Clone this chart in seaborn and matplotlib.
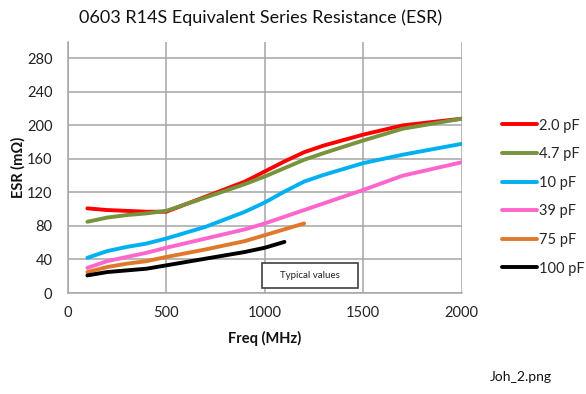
import matplotlib
matplotlib.use("Agg")
import numpy as np
import pandas as pd
import matplotlib.pyplot as plt
import seaborn as sns
from matplotlib.patches import Rectangle

# values (ESR in mOhm vs frequency in MHz)
caps = ["2.0 pF", "4.7 pF", "10 pF", "39 pF", "75 pF", "100 pF"]

freq_full = [100, 200, 300, 400, 500, 700, 900, 1000, 1100, 1200, 1300, 1500, 1700, 2000]
freq_75 = [100, 200, 300, 400, 500, 700, 900, 1000, 1100, 1200]
freq_100 = [100, 200, 300, 400, 500, 700, 900, 1000, 1100]

esr_2p0 = [101, 99, 98, 97, 97, 115, 133, 145, 157, 168, 176, 189, 200, 208]
esr_4p7 = [85, 90, 93, 95, 98, 114, 130, 139, 149, 159, 167, 182, 196, 208]
esr_10 = [42, 50, 55, 59, 65, 79, 97, 108, 121, 133, 141, 155, 165, 178]
esr_39 = [30, 38, 43, 48, 54, 65, 76, 83, 91, 99, 107, 123, 140, 156]
esr_75 = [25, 31, 35, 38, 43, 52, 62, 69, 76, 83]
esr_100 = [21, 25, 27, 29, 33, 41, 49, 54, 61]

colors = ["#FF0000", "#77933C", "#00B0F0", "#FF66CC", "#E0782C", "#000000"]

series = [
    (caps[0], freq_full, esr_2p0),
    (caps[1], freq_full, esr_4p7),
    (caps[2], freq_full, esr_10),
    (caps[3], freq_full, esr_39),
    (caps[4], freq_75, esr_75),
    (caps[5], freq_100, esr_100),
]
df = pd.concat(
    [pd.DataFrame({"freq": f, "esr": e, "cap": c}) for c, f, e in series],
    ignore_index=True,
)

sns.set_style("white")
plt.rcParams["font.family"] = ["Lato", "DejaVu Sans"]

fig = plt.figure(figsize=(5.86, 3.94), dpi=100)
ax = fig.add_axes([0.1155, 0.2563, 0.788 - 0.1155, 0.8934 - 0.2563])

grid_col = "#A6A6A6"
sns.lineplot(
    data=df, x="freq", y="esr", hue="cap", hue_order=caps,
    palette=dict(zip(caps, colors)), linewidth=2.8, ax=ax,
    solid_capstyle="round",
)

ax.set_xlim(0, 2000)
ax.set_ylim(0, 299.5)
ax.set_xticks(np.arange(0, 2001, 500))
ax.set_yticks(np.arange(0, 281, 40))
ax.grid(True, color=grid_col, linewidth=1.1)
ax.set_axisbelow(True)
for side in ["top", "right"]:
    ax.spines[side].set_visible(False)
for side in ["left", "bottom"]:
    ax.spines[side].set_color(grid_col)
    ax.spines[side].set_linewidth(1.1)
ax.tick_params(axis="both", direction="out", length=4, width=1.1,
               color=grid_col, labelsize=10.5, labelcolor="#222222")
ax.tick_params(axis="x", pad=5)
ax.tick_params(axis="y", pad=7)
ax.set_xlabel("")
ax.set_ylabel("")

# "Typical values" box
ax.add_patch(Rectangle((988, 5.6), 487, 30, facecolor="white",
                       edgecolor="#404040", linewidth=1.2, zorder=5))
ax.text(1231, 20.5, "Typical values", ha="center", va="center",
        fontsize=7, color="#222222", zorder=6)

handles, labels = ax.get_legend_handles_labels()
ax.legend(handles, labels, loc="upper left", bbox_to_anchor=(0.856, 0.699),
          bbox_transform=fig.transFigure, frameon=False, fontsize=10.5,
          handlelength=2.4, handletextpad=0.15, labelspacing=1.0,
          borderpad=0, borderaxespad=0)

fig.text(0.135, 0.954, "0603 R14S Equivalent Series Resistance (ESR)",
         ha="left", va="center", fontsize=13, color="#111111")
fig.text(0.452, 0.142, "Freq (MHz)", ha="center", va="center",
         fontsize=10.5, fontweight="bold", color="#111111")
fig.text(0.031, 0.576, "ESR (m\u03a9)", ha="center", va="center",
         rotation=90, fontsize=10.5, fontweight="bold", color="#111111")
fig.text(0.836, 0.043, "Joh_2.png", ha="left", va="center",
         fontsize=10, color="#111111")

fig.savefig("out.png", dpi=100)
